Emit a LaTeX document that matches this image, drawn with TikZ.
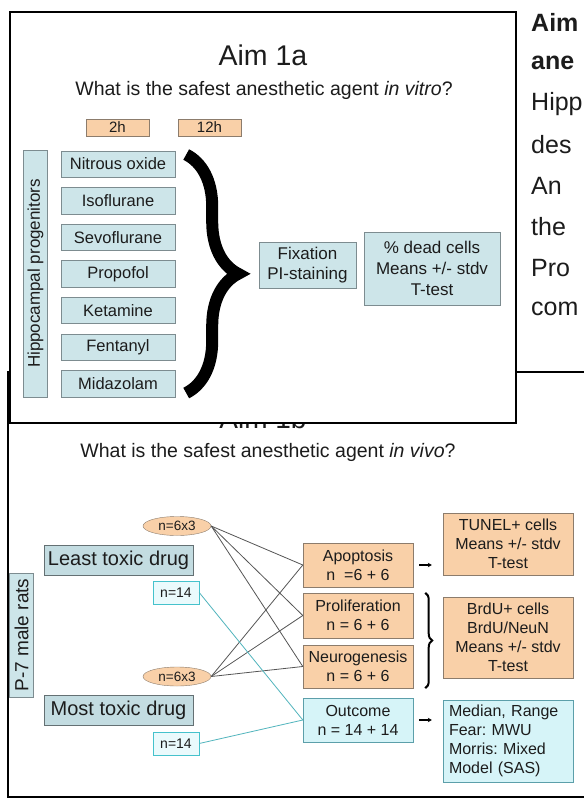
\documentclass[tikz,border=0pt]{standalone}
\usepackage{fontspec}
\setmainfont{Liberation Sans}
\usetikzlibrary{positioning,decorations.pathreplacing,arrows.meta,shapes.geometric}

\definecolor{paleblue}{HTML}{CDE5E9}
\definecolor{boxgray}{HTML}{7D8C90}
\definecolor{drugblue}{HTML}{C3DCE1}
\definecolor{peach}{HTML}{F9D0A8}
\definecolor{peachline}{HTML}{8C7C6C}
\definecolor{skycyan}{HTML}{D6F4F8}
\definecolor{cyanline}{HTML}{5C9FAA}
\definecolor{tealline}{HTML}{45C2CC}
\definecolor{tealfill}{HTML}{EAFAFC}
\definecolor{linkgray}{HTML}{555555}
\definecolor{inktext}{HTML}{1C1C1C}

\tikzset{
  every node/.style={text=inktext, inner sep=0pt},
  bluebox/.style={draw=boxgray, fill=paleblue, align=center},
  drugbox/.style={bluebox, minimum width=114pt, minimum height=26.5pt, font=\fontsize{16.5}{19}\selectfont},
  hourbox/.style={draw=peachline, fill=peach, minimum width=63pt, minimum height=17pt, font=\fontsize{15}{17}\selectfont},
  sidebox/.style={bluebox, rotate=90, minimum height=24pt},
  orangebox/.style={draw=peachline, fill=peach, align=center, minimum width=110pt, font=\fontsize{16}{19}\selectfont},
  resultbox/.style={orangebox, minimum width=130pt},
  cyanbox/.style={draw=cyanline, fill=skycyan, align=center, font=\fontsize{16}{19}\selectfont},
  groupbox/.style={draw=peachline, fill=peach, ellipse, minimum width=68pt, minimum height=19pt, font=\fontsize{13.5}{15}\selectfont},
  countbox/.style={draw=tealline, fill=tealfill, minimum width=46pt, minimum height=23pt, font=\fontsize{14}{16}\selectfont},
  drugchoice/.style={draw=boxgray!80!black, fill=drugblue, minimum width=149pt, minimum height=30pt, font=\fontsize{20}{22}\selectfont},
  grouplink/.style={draw=linkgray, line width=0.8pt},
  countlink/.style={draw=tealline!80!gray, line width=0.8pt},
  smallarrow/.style={line width=1.6pt, -{Stealth[length=4pt,width=4.5pt]}, shorten <=6pt, shorten >=11pt},
  sidetext/.style={anchor=west, font=\fontsize{25}{27}\selectfont}
}

\begin{document}
\frenchspacing
\begin{tikzpicture}[x=1pt,y=-1pt]
\useasboundingbox (0,0) rectangle (583,799);
\fill[white] (0,0) rectangle (583,799);

% Aim 1b panel (lies under the Aim 1a panel)
\draw[line width=2pt, fill=white] (8,372) rectangle (600,797);
\node[anchor=base, font=\fontsize{28}{30}\selectfont] (titleB) at (263,428) {Aim 1b};
\node[font=\fontsize{19.5}{22}\selectfont] (questB) at (268,452) {What is the safest anesthetic agent \textit{in vivo}?};

% groups of rats
\node[sidebox, minimum width=124pt, font=\fontsize{19}{21}\selectfont] (rats) at (21.5,635) {P-7 male rats};
\node[drugchoice] (least) at (118.5,560) {Least toxic drug};
\node[drugchoice] (most) at (118.5,710) {Most toxic drug};
\node[groupbox] (groupA) at (177,526) {n=6x3};
\node[groupbox] (groupB) at (177,676.5) {n=6x3};
\node[countbox] (countA) at (176,592.5) {n=14};
\node[countbox] (countB) at (176,743.5) {n=14};

% endpoints
\node[orangebox, minimum height=44pt] (apop) at (358,565) {Apoptosis\\n\ \ =6 + 6};
\node[orangebox, minimum height=45pt] (prolif) at (358,615.5) {Proliferation\\n = 6 + 6};
\node[orangebox, minimum height=43pt] (neuro) at (358,666.5) {Neurogenesis\\n = 6 + 6};
\node[cyanbox, minimum width=110pt, minimum height=44pt] (outc) at (358,720) {Outcome\\n = 14 + 14};

% analyses
\node[resultbox, minimum height=62pt] (tunel) at (508,544) {TUNEL+ cells\\Means +/- stdv\\T-test};
\node[resultbox, minimum height=81pt] (brdu) at (508,637.5) {BrdU+ cells\\BrdU/NeuN\\Means +/- stdv\\T-test};
\node[cyanbox, align=left, minimum width=130pt, minimum height=82pt, text width=118pt] (median) at (508,741) {Median, Range\\Fear: MWU\\Morris: Mixed\\Model (SAS)};

% links
\foreach \grp in {groupA,groupB}
  \foreach \test in {apop,prolif,neuro}
    \draw[grouplink] (\grp.east) -- (\test.west);
\draw[countlink] (countA.east) -- (outc.west);
\draw[countlink] (countB.east) -- (outc.west);
\draw[smallarrow] (apop.east) -- (apop.east -| tunel.west);
\draw[smallarrow] (outc.east) -- (outc.east -| median.west);
\draw[decorate, decoration={brace, amplitude=7pt}, line width=2pt]
  ([xshift=12pt]prolif.north east) -- ([xshift=12pt]neuro.south east);

% Aim 1a panel
\draw[line width=2pt, fill=white] (10,12) rectangle (516,423);
\node[font=\fontsize{28.5}{30}\selectfont] (titleA) at (263,55) {Aim 1a};
\node[font=\fontsize{19.5}{22}\selectfont] (questA) at (264,90) {What is the safest anesthetic agent \textit{in vitro}?};
\node[hourbox] (twoh) at (117.5,127.5) {2h};
\node[hourbox] (twelveh) at (209.5,127.5) {12h};
\node[sidebox, minimum width=247pt, font=\fontsize{17}{19}\selectfont] (hippo) at (35.5,273.5) {Hippocampal progenitors};
\foreach \drug [count=\i] in {Nitrous oxide,Isoflurane,Sevoflurane,Propofol,Ketamine,Fentanyl,Midazolam}
  \node[drugbox] (drug\i) at (118,{164+36.6*(\i-1)}) {\drug};
\draw[decorate, decoration={brace, amplitude=52pt}, line width=12pt]
  ([xshift=11pt,yshift=-4pt]drug1.north east) -- ([xshift=11pt,yshift=4pt]drug7.south east);
\node[bluebox, minimum width=97pt, minimum height=46pt, font=\fontsize{17}{20}\selectfont] (fix) at (307.5,265) {Fixation\\PI-staining};
\node[bluebox, minimum width=136pt, minimum height=73pt, font=\fontsize{17}{21}\selectfont] (dead) at (432,268.5) {\% dead cells\\Means +/- stdv\\T-test};

% text beside the panels
\node[sidetext, font=\fontsize{25}{27}\selectfont\bfseries] (txtA) at (531,22) {Aim};
\node[sidetext, font=\fontsize{25}{27}\selectfont\bfseries] (txtB) at (531,63) {ane};
\node[sidetext] (txtC) at (531,104) {Hipp};
\node[sidetext] (txtD) at (531,145) {des};
\node[sidetext] (txtE) at (531,186) {An};
\node[sidetext] (txtF) at (531,227) {the};
\node[sidetext] (txtG) at (531,268) {Pro};
\node[sidetext] (txtH) at (531,309) {com};
\end{tikzpicture}
\end{document}
